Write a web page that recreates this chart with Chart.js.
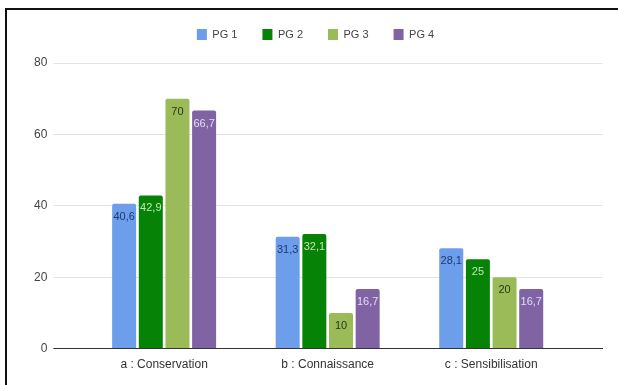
<!DOCTYPE html>
<html>
<head>
<meta charset="utf-8">
<script src="https://cdn.jsdelivr.net/npm/chart.js@4.4.0/dist/chart.umd.min.js"></script>
<style>
  html, body { margin: 0; padding: 0; background: #fff; overflow: hidden; }
  #wrap { position: absolute; left: 0; top: 0; width: 618px; height: 385px; }
  #frame { position: absolute; left: 5px; top: 8px; width: 700px; height: 500px;
           border-left: 2px solid #111; border-top: 2px solid #111; pointer-events: none; }
</style>
</head>
<body>
<div id="wrap"><canvas id="chart" width="618" height="385"></canvas></div>
<div id="frame"></div>
<script>
const categories = ["a : Conservation", "b : Connaissance", "c : Sensibilisation"];
const seriesNames = ["PG 1", "PG 2", "PG 3", "PG 4"];
const pg1 = [40.6, 31.3, 28.1];
const pg2 = [42.9, 32.1, 25];
const pg3 = [70, 10, 20];
const pg4 = [66.7, 16.7, 16.7];
const yTicks = [0, 20, 40, 60, 80];

const barColors = ["#6d9eeb", "#068306", "#9bbb59", "#7f63a3"];
const labelColors = ["#1b3a70", "#c2e6b2", "#2b3812", "#e4dbf3"];

Chart.defaults.font.family = 'Arial, "Liberation Sans", sans-serif';
Chart.defaults.font.size = 12;
Chart.defaults.color = "#444";

// value labels inside the top of each bar
const barLabels = {
  id: "barLabels",
  afterDatasetsDraw(chart) {
    const ctx = chart.ctx;
    ctx.save();
    ctx.font = '11px Arial, "Liberation Sans", sans-serif';
    ctx.textAlign = "center";
    ctx.textBaseline = "middle";
    chart.data.datasets.forEach((ds, i) => {
      const meta = chart.getDatasetMeta(i);
      meta.data.forEach((bar, j) => {
        ctx.fillStyle = labelColors[i];
        ctx.fillText(String(ds.data[j]).replace(".", ","), bar.x, bar.y + 13);
      });
    });
    ctx.restore();
  }
};

// extra room under the legend
const legendGap = {
  id: "legendGap",
  beforeInit(chart) {
    const fit = chart.legend.fit;
    chart.legend.fit = function () {
      fit.call(this);
      this.height += 13;
    };
  }
};

const gridColor = (c) => (c.tick && c.tick.value === 0 ? "#333" : "#e3e3e3");

new Chart(document.getElementById("chart"), {
  type: "bar",
  data: {
    labels: categories,
    datasets: [pg1, pg2, pg3, pg4].map((d, i) => ({
      label: seriesNames[i],
      data: d,
      backgroundColor: barColors[i],
      borderRadius: 2,
      borderSkipped: "bottom",
      categoryPercentage: 0.652,
      barPercentage: 0.9
    }))
  },
  options: {
    responsive: false,
    animation: false,
    layout: { padding: { left: 28, right: 15, top: 4, bottom: 12 } },
    plugins: {
      tooltip: { enabled: false },
      legend: {
        position: "top",
        align: "center",
        labels: { boxWidth: 10, boxHeight: 11, padding: 25, color: "#444", font: { size: 11 } }
      }
    },
    scales: {
      x: {
        grid: { display: false },
        border: { display: true, color: "#333", width: 1 },
        ticks: { padding: 1, color: "#333" }
      },
      y: {
        min: 0,
        max: 80,
        afterBuildTicks: (s) => { s.ticks = yTicks.map((v) => ({ value: v })); },
        grid: { color: gridColor, tickLength: 29, drawTicks: true },
        border: { display: false },
        ticks: { padding: 6, color: "#444" }
      },
      y2: {
        position: "right",
        min: 0,
        max: 80,
        afterBuildTicks: (s) => { s.ticks = yTicks.map((v) => ({ value: v })); },
        grid: { color: gridColor, tickLength: 30, drawOnChartArea: false },
        border: { display: false },
        ticks: { display: false }
      }
    }
  },
  plugins: [barLabels, legendGap]
});
</script>
</body>
</html>
